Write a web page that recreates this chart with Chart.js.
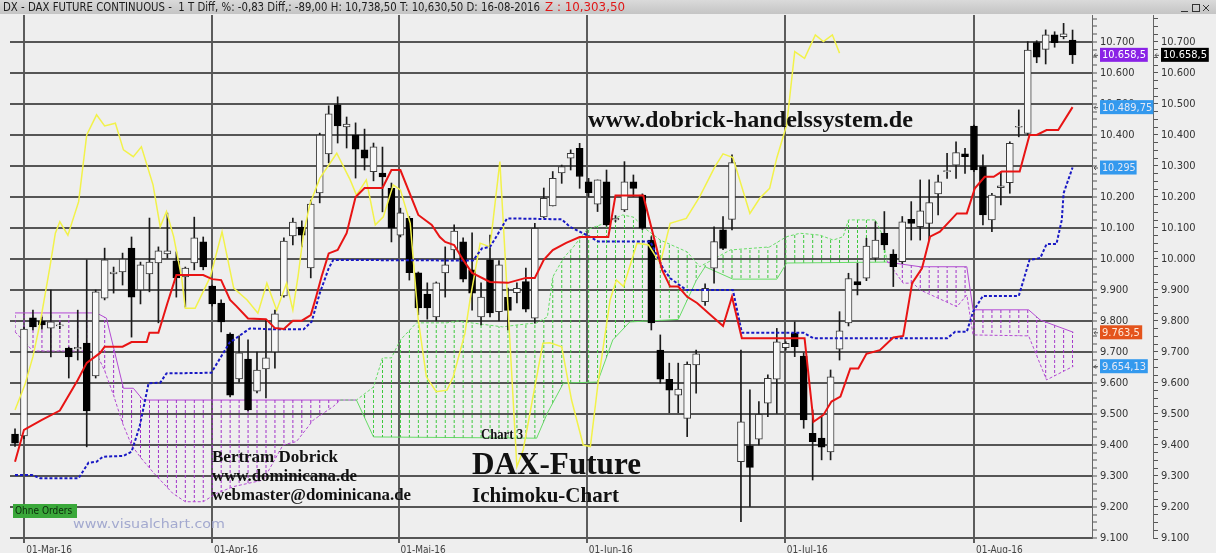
<!DOCTYPE html>
<html>
<head>
<meta charset="utf-8">
<script src="https://cdn.jsdelivr.net/npm/chart.js@4.4.1/dist/chart.umd.min.js"></script>
<style>
html,body{margin:0;padding:0;background:#eeeeee;overflow:hidden}
#wrap{width:1216px;height:553px}
</style>
</head>
<body>
<div id="wrap"><canvas id="c" width="1216" height="553"></canvas></div>
<script>
/* ===== DATA (index 0 = 29-Feb-16) ===== */
const candleOpen=[9435,9429,9810,9800,9777,9784,9713,9710,9729,9623,
  9874,9952,9958,10035,9900,9952,9987,10016,9994,9942,
  9987,10055,9913,9858,9758,9613,9677,9574,9645,9700,
  9881,10074,10103,9971,10213,10339,10497,10426,10400,10352,
  10282,10277,10228,10077,10131,9955,9887,9813,9955,10029,
  10055,9965,9813,9997,9830,9876,9891,9927,9809,10136,
  10171,10278,10325,10357,10249,10177,10249,10126,10158,10249,
  10206,10061,9706,9612,9561,9486,9658,9862,9970,10094,
  10128,9346,9397,9419,9535,9612,9714,9760,9687,9438,
  9422,9378,9709,9794,9927,9938,10003,10083,10016,9991,
  10128,10104,10115,10210,10282,10303,10339,10429,10298,10126,
  10230,10246,10425,10405,10698,10676,10723,10717,10706];
const candleHigh=[9452,9780,9835,9813,9900,9795,9716,9835,9997,9900,
  10035,9974,10019,10071,9990,10132,10039,10148,10023,9974,
  10135,10071,9916,9868,9762,9752,9739,9700,9803,9835,
  10068,10132,10123,10190,10406,10494,10523,10458,10439,10419,
  10374,10361,10245,10164,10137,9958,9923,9926,10039,10110,
  10068,10084,9923,10077,9995,9906,9923,9971,10115,10229,
  10282,10303,10352,10373,10260,10255,10287,10140,10314,10271,
  10210,10072,9755,9664,9664,9668,9706,9920,10104,10137,
  10336,9706,9578,9540,9626,9776,9733,9797,9697,9513,
  9491,9642,9830,9954,9986,10067,10120,10153,10030,10137,
  10185,10255,10255,10271,10341,10378,10357,10432,10336,10212,
  10282,10378,10481,10701,10704,10739,10733,10760,10738.5];
const candleLow=[9395,9420,9771,9774,9684,9775,9616,9674,9394,9616,
  9868,9890,9916,9748,9855,9894,9794,10003,9877,9845,
  9965,9965,9848,9765,9555,9603,9510,9568,9552,9648,
  9877,10045,10039,9939,10181,10310,10374,10358,10261,10287,
  10252,10152,10055,10071,9932,9820,9806,9800,9877,10000,
  9926,9835,9787,9813,9800,9771,9858,9829,9793,10133,
  10171,10244,10287,10228,10200,10153,10106,10120,10153,10201,
  10095,9771,9599,9504,9504,9427,9567,9850,9922,10030,
  10094,9153,9202,9400,9491,9502,9706,9685,9454,9287,
  9352,9352,9674,9784,9884,9930,9997,10030,9911,9985,
  10061,10061,10061,10142,10260,10260,10276,10282,10110,10088,
  10174,10212,10394,10400,10633,10629,10683,10710,10630.5];
const candleClose=[9406,9774,9781,9787,9797,9786,9684,9715,9510,9894,
  9997,9958,10000,9877,9981,9990,10026,10026,9939,9971,
  10068,9974,9855,9797,9561,9697,9513,9642,9681,9823,
  10058,10119,10077,10177,10400,10468,10429,10435,10354,10325,
  10362,10265,10099,10149,9956,9842,9842,9923,9981,10090,
  9935,9890,9877,9826,9981,9834,9905,9838,10099,10196,
  10260,10298,10341,10266,10214,10255,10110,10131,10249,10228,
  10099,9794,9612,9577,9580,9660,9694,9905,10056,10034,
  10311,9475,9328,9499,9615,9733,9728,9717,9481,9411,
  9393,9620,9768,9937,9916,10042,10061,10045,9975,10120,
  10115,10155,10182,10249,10284,10343,10330,10287,10142,10206,
  10236,10373,10427,10674,10651,10723,10698,10726,10658.5];

// indicator lines as [bar index, value] vertices
const tenkanPts=[[0,9346],[1,9449],[3,9481],[5,9511],[7,9610],[8,9665],[9.5,9697],[10,9717],[12,9717],[13,9732],[14.7,9732],[15,9762],[16,9762],[17,9857],[18,9948],[21,9948],[22,9935],[23,9932],[24,9868],[24.7,9848],[26,9808],[28,9806],[29,9777],[30,9774],[31,9801],[32,9801],[33,9819],[33.5,9868],[34.2,9943],[35,10018],[36,10029],[37,10083],[38,10200],[39,10229],[41,10229],[42,10287],[43,10287],[45,10142],[46.5,10110],[47.4,10071],[48,10055],[49,10045],[50,9997],[51,9955],[53,9926],[55,9923],[57,9939],[58,9939],[59,9997],[60,10029],[61.5,10052],[63,10071],[66.2,10071],[67,10205],[70.1,10205],[72.2,9965],[73.1,9911],[74,9911],[75,9878],[76.1,9858],[79,9784],[80,9878],[81.1,9744],[88.1,9744],[89.1,9475],[90.2,9497],[91.1,9540],[92.1,9556],[93.2,9647],[94.1,9647],[95,9694],[96.5,9706],[98,9747],[99.1,9752],[100.1,9922],[101.2,9970],[102.1,10072],[103.2,10088],[105.1,10147],[106.2,10147],[107.1,10228],[108.2,10265],[109.2,10265],[110.1,10282],[112.1,10282],[113.2,10400],[114,10400],[115.1,10416],[116.4,10416],[118,10489.75]];
const kijunPts=[[0,9303],[1.9,9303],[2.8,9293],[7.1,9293],[8.2,9343],[9.1,9346],[9.8,9362],[12.1,9365],[13,9378],[13.9,9459],[14.9,9599],[16.2,9601],[16.9,9631],[21.9,9633],[24,9733],[24.4,9739],[26.2,9776],[28.8,9773],[32.2,9773],[33.1,9798],[34,9889],[35,9970],[35.5,9997],[51.1,9995],[52.1,10034],[53,10039],[53.7,10072],[54.9,10131],[61,10128],[61.9,10104],[63.8,10077],[65.1,10056],[70.9,10056],[72.3,9970],[73.1,9938],[74.9,9900],[80.1,9900],[81.1,9762],[88,9762],[89.1,9744],[104,9744],[104.9,9765],[106.2,9765],[106.9,9830],[108,9881],[112,9881],[113.2,9997],[114.4,10003],[115.1,10048],[116.2,10048],[116.8,10126],[117,10212],[118,10295]];
const chikouPts=[[0,9513],[1.1,9594],[2,9685],[2.8,9794],[3.9,9975],[4.5,10083],[5,10120],[5.9,10077],[7.1,10185],[8,10400],[9.1,10465],[10,10429],[11.2,10438],[12.1,10352],[13.2,10330],[14.1,10362],[15.4,10239],[16.2,10104],[16.9,10153],[17.7,10072],[18.6,9938],[19,9841],[20.1,9841],[21.8,9943],[23.1,10088],[24.4,9906],[25.9,9868],[27.1,9825],[28.1,9922],[29.2,9835],[30.3,9922],[31,9835],[31.6,9948],[32.2,10083],[32.9,10177],[34,10260],[35.9,10341],[37.4,10255],[38.1,10206],[39.2,10255],[40.2,10110],[41.1,10136],[42.2,10239],[43,10223],[44.1,10115],[45,9803],[45.9,9620],[47,9572],[48.2,9577],[48.9,9620],[50.2,9760],[50.8,9874],[51.9,10051],[53,10039],[54.1,10314],[56,9330],[56.7,9384],[58.9,9728],[59.7,9730],[61,9717],[62.1,9545],[63.4,9400],[64.2,9395],[65.1,9610],[66.4,9868],[67.1,9932],[67.9,9911],[69.4,10051],[70.7,10045],[72,9986],[73.1,10115],[74.9,10131],[76.4,10201],[78.1,10298],[79,10339],[80.1,10327],[82,10147],[83.1,10196],[84.2,10228],[85,10326],[86.1,10432],[87,10669],[88.1,10647],[89.3,10723],[90.2,10701],[91.2,10723],[92,10664]];
const spanAPts=[[0,9765],[2,9703],[8,9703],[9,9700],[10,9640],[11,9560],[12,9470],[13,9400],[14,9360],[15.5,9309],[17.6,9244],[19,9217],[21,9217],[22.5,9244],[24.4,9266],[27.7,9287],[29.9,9400],[31.4,9411],[33.3,9481],[35.5,9524],[36.3,9545],[38.1,9545],[40,9587],[41,9681],[42,9681],[43,9739],[44.8,9794],[48.2,9794],[49.3,9800],[54.4,9781],[56,9787],[58.2,9794],[59.4,9813],[60,9942],[61.2,10003],[62.3,10039],[63.8,10094],[65.3,10110],[67.8,10142],[69,10135],[70.5,10094],[72,10061],[75,10023],[76.4,9975],[79.8,10029],[84.2,10039],[86.1,10072],[87.6,10083],[89.8,10077],[91.3,10061],[92.4,10072],[93,10126],[96,10126],[96.7,10083],[97.3,9994],[99.1,9922],[100.2,9922],[101,9900],[105.1,9846],[106.2,9884],[106.9,9755],[113.1,9752],[115.1,9610],[118.1,9654.13]];
const spanBPts=[[0,9826],[9.1,9826],[10.2,9809],[12.1,9583],[13.2,9583],[14.3,9545],[38.1,9545],[40,9426],[58.2,9422],[59.4,9503],[61.2,9600],[65,9603],[66.7,9739],[68.6,9797],[74,9805],[76,9930],[77,9975],[80.1,9935],[85,9935],[86.1,9987],[97.3,9990],[101,9975],[106.2,9975],[106.9,9836],[113.1,9836],[114.4,9803],[118.1,9763.5]];
const kumoGreenFrom=36.3, kumoGreenTo=97.3;

const monthTickIdx=[1.03,21.98,42.79,63.8,85.9,107];
const monthLabels=['01-Mar-16','01-Apr-16','01-Mai-16','01-Jun-16','01-Jul-16','01-Aug-16'];
const priceMin=9100, priceMax=10787;
// last values shown as tags: close, tenkan, kijun, span B, span A
const tagValues=[10658.5,10489.75,10295,9763.5,9654.13];

/* ===== HELPERS ===== */
function pts(a){return a.map(p=>({x:p[0],y:p[1]}))}
function deNum(v){
  const parts=String(v).split('.');
  const s=parts[0];
  return s.slice(0,-3)+'.'+s.slice(-3)+(parts[1]?','+parts[1]:'');
}
function hatch(col){
  const c=document.createElement('canvas');c.width=9;c.height=5;
  const g=c.getContext('2d');g.fillStyle=col;g.fillRect(0,0,1,3);
  return g.createPattern(c,'repeat');
}
const hatchGreen=hatch('#3cc83c'), hatchPurple=hatch('#a030c8');
function kumoColor(ctx){
  const m=(ctx.p0.parsed.x+ctx.p1.parsed.x)/2;
  return (m>kumoGreenFrom&&m<kumoGreenTo)?'#66dd66':'#b44ad4';
}
// draw text stretched/squeezed to an exact width
function fitText(c,txt,x,y,w){
  const m=c.measureText(txt).width;
  c.save();c.translate(x,y);c.scale(w/m,1);c.fillText(txt,0,0);c.restore();
}

const bodies=candleOpen.map((o,i)=>({x:i,y:[Math.min(o,candleClose[i]),Math.max(o,candleClose[i])]}));
const wicks=candleHigh.map((h,i)=>({x:i,y:[candleLow[i],h]}));
const bodyFill=candleOpen.map((o,i)=>candleClose[i]>=o?'#f8f8f8':'#000000');
const bodyLine=candleOpen.map((o,i)=>candleClose[i]>=o?'#3a3a3a':'#000000');

const yTicks=[];
for(let v=priceMin;v<=priceMax;v+=25)yTicks.push({value:v});

const LBL="'DejaVu Sans Condensed','Liberation Sans Narrow','Liberation Sans',sans-serif";
const SERIF="'Liberation Serif','Times New Roman',serif";

/* ===== PLUGINS ===== */
const backdrop={
  id:'backdrop',
  beforeDraw(chart){
    const c=chart.ctx;
    c.save();
    c.fillStyle='#eeeeee';c.fillRect(0,0,chart.width,chart.height);
    const g=c.createLinearGradient(0,0,0,14);
    g.addColorStop(0,'#dadada');g.addColorStop(1,'#c4c4c4');
    c.fillStyle=g;c.fillRect(0,0,chart.width,14);
    c.font="12px 'DejaVu Sans',sans-serif";c.textBaseline='middle';
    c.fillStyle='#1c1c1c';
    fitText(c,'DX - DAX FUTURE CONTINUOUS -  1 T Diff, %: -0,83 Diff,: -89,00 H: 10,738,50 T: 10,630,50 D: 16-08-2016',3,7.5,537);
    c.fillStyle='#e01818';
    fitText(c,'Z : 10,303,50',545,7.5,80);
    // window buttons
    c.strokeStyle='#333';c.lineWidth=1;
    c.beginPath();c.moveTo(1181,11.5);c.lineTo(1188,11.5);c.stroke();
    c.strokeRect(1192.5,4.5,7,7);
    c.beginPath();c.moveTo(1203,5);c.lineTo(1209,11);c.moveTo(1209,5);c.lineTo(1203,11);c.stroke();
    c.restore();
  },
  beforeDatasetsDraw(chart){
    const xs=chart.scales.x;
    const x0=xs.getPixelForValue(0), dx=xs.getPixelForValue(1)-x0;
    const m=new DOMMatrix([dx/9,0,0,1,x0-0.5,0]);
    hatchGreen.setTransform(m);hatchPurple.setTransform(m);
  },
  afterDatasetsDraw(chart){
    const c=chart.ctx;
    c.save();
    c.fillStyle='#111';c.textBaseline='alphabetic';
    c.font="bold 24px "+SERIF;fitText(c,'www.dobrick-handelssystem.de',588,127,325);
    c.font="bold 17px "+SERIF;
    fitText(c,'Bertram Dobrick',212,462,126);
    fitText(c,'www.dominicana.de',212,481,145);
    fitText(c,'webmaster@dominicana.de',212,500,199);
    c.font="bold 14px "+SERIF;fitText(c,'Chart 3',481,439,42);
    c.font="bold 32px "+SERIF;fitText(c,'DAX-Future',472,474,169);
    c.font="bold 21px "+SERIF;fitText(c,'Ichimoku-Chart',472,502,147);
    // status box + watermark
    c.fillStyle='#3aa83a';c.fillRect(13,504,64,14);
    c.fillStyle='#0b2a0b';c.font="10px "+LBL;c.textBaseline='middle';
    c.fillText('Ohne Orders',15,511.5,60);
    c.fillStyle='#a3a9cf';c.font="13px 'DejaVu Sans',sans-serif";c.textBaseline='alphabetic';
    fitText(c,'www.visualchart.com',73,528,152);
    // price tags on the right axes
    const y=chart.scales.y, y2=chart.scales.y2;
    const tags=[
      [y,tagValues[0],'#8a22e6','#ffffff'],
      [y2,tagValues[0],'#000000','#ffffff'],
      [y,tagValues[1],'#3399ee','#e4e8f4'],
      [y,tagValues[2],'#3399ee','#e4e8f4'],
      [y,tagValues[3],'#e4541c','#ffe8d8'],
      [y,tagValues[4],'#3399ee','#e4e8f4']
    ];
    c.font="11px "+LBL;c.textBaseline='middle';
    tags.forEach(t=>{
      const ax=t[0], txt=deNum(t[1]), py=ax.getPixelForValue(t[1]);
      const w=txt.length*5.6+3, bx=ax.left+8;
      c.fillStyle=t[2];c.fillRect(bx,py-7,w,14);
      c.strokeStyle='#555';c.lineWidth=1;
      c.beginPath();c.moveTo(ax.left+6,py+0.5);c.lineTo(ax.left+2,py+0.5);
      c.moveTo(ax.left+4,py-1.5);c.lineTo(ax.left+2,py+0.5);c.lineTo(ax.left+4,py+2.5);c.stroke();
      c.fillStyle=t[3];c.fillText(txt,bx+2,py+0.5,w-3);
    });
    c.restore();
  }
};

/* ===== CHART ===== */
const tickFont={family:LBL,size:11};
new Chart(document.getElementById('c'),{
  type:'bar',
  data:{datasets:[
    {type:'line',label:'Tenkan',data:pts(tenkanPts),borderColor:'#e81414',borderWidth:2,pointRadius:0,fill:false},
    {type:'line',label:'Kijun',data:pts(kijunPts),borderColor:'#1818c4',borderWidth:2,borderDash:[3,2],pointRadius:0,fill:false},
    {type:'line',label:'Chikou',data:pts(chikouPts),borderColor:'#f2f24a',borderWidth:1.5,pointRadius:0,fill:false},
    {type:'bar',label:'Body',data:bodies,backgroundColor:bodyFill,borderColor:bodyLine,borderWidth:1,borderSkipped:false,barThickness:7,grouped:false,minBarLength:1},
    {type:'bar',label:'Wick',data:wicks,backgroundColor:'#1a1a1a',barThickness:1,grouped:false},
    {type:'line',label:'SpanA',data:pts(spanAPts),borderColor:'#66dd66',borderWidth:1,borderDash:[3,2],pointRadius:0,
      fill:{target:6,above:hatchGreen,below:hatchPurple},segment:{borderColor:kumoColor}},
    {type:'line',label:'SpanB',data:pts(spanBPts),borderColor:'#b44ad4',borderWidth:1,pointRadius:0,fill:false,segment:{borderColor:kumoColor}}
  ]},
  options:{
    responsive:false,devicePixelRatio:1,animation:false,events:[],
    layout:{padding:{left:10,top:15,right:0,bottom:0}},
    plugins:{legend:{display:false},tooltip:{enabled:false}},
    scales:{
      x:{type:'linear',position:'bottom',min:-0.56,max:120.17,offset:false,
        afterBuildTicks:ax=>{ax.ticks=monthTickIdx.map(v=>({value:v}))},
        afterFit:ax=>{ax.height=15},
        ticks:{autoSkip:false,maxRotation:0,minRotation:0,align:'start',padding:1,labelOffset:2,
          callback:(v,i)=>monthLabels[i],font:{family:LBL,size:10},color:'#444'},
        grid:{offset:false,color:'#5c5c5c',lineWidth:2,tickLength:5},
        border:{display:true,color:'#555',width:1}},
      y:{type:'linear',position:'right',weight:0,min:priceMin,max:priceMax,
        afterBuildTicks:ax=>{ax.ticks=yTicks.map(t=>({value:t.value}))},
        afterFit:ax=>{ax.width=61},
        ticks:{autoSkip:false,padding:3,font:tickFont,color:'#333',
          callback:v=>v%100===0?deNum(v):''},
        grid:{color:ctx=>ctx.tick&&ctx.tick.value%100===0?'#555555':'rgba(0,0,0,0)',lineWidth:2,
          tickLength:5,tickColor:'#555',tickWidth:1},
        border:{color:'#666',width:1}},
      y2:{type:'linear',position:'right',weight:1,min:priceMin,max:priceMax,
        afterBuildTicks:ax=>{ax.ticks=yTicks.map(t=>({value:t.value}))},
        afterFit:ax=>{ax.width=63},
        ticks:{autoSkip:false,padding:3,font:tickFont,color:'#333',
          callback:v=>v%100===0?deNum(v):''},
        grid:{drawOnChartArea:false,color:'#555',tickLength:5,lineWidth:1},
        border:{color:'#666',width:1}}
    }
  },
  plugins:[backdrop]
});
</script>
</body>
</html>
